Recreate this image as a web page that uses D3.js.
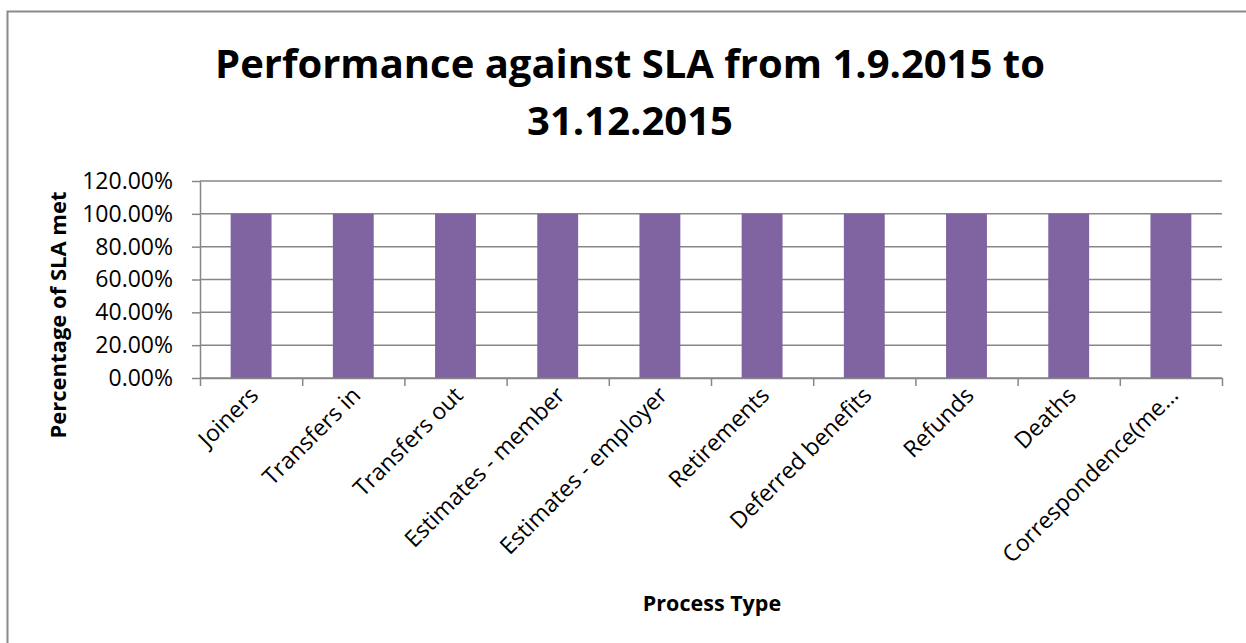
<!DOCTYPE html>
<html>
<head>
<meta charset="utf-8">
<script src="https://cdn.jsdelivr.net/npm/d3@7"></script>
<style>
  body { margin: 0; background: #fff; }
  svg { display: block; font-family: "Open Sans", sans-serif; }
</style>
</head>
<body>
<div id="wrapper"></div>
<script>
const categories = ["Joiners", "Transfers in", "Transfers out", "Estimates - member",
    "Estimates - employer", "Retirements", "Deferred benefits", "Refunds", "Deaths",
    "Correspondence(me\u2026"];
const slaMet = [1, 1, 1, 1, 1, 1, 1, 1, 1, 1];
const yTicks = [0, 0.2, 0.4, 0.6, 0.8, 1.0, 1.2];
const titleLines = ["Performance against SLA from 1.9.2015 to", "31.12.2015"];

const dimensions = {
    width: 1246,
    height: 643,
    margin: { top: 181, right: 24, bottom: 265, left: 200 },
};
dimensions.boundedWidth = dimensions.width - dimensions.margin.left - dimensions.margin.right;
dimensions.boundedHeight = dimensions.height - dimensions.margin.top - dimensions.margin.bottom;

const gridColor = "#878787";

const xScale = d3.scaleBand()
    .domain(categories)
    .range([0, dimensions.boundedWidth])
    .paddingInner(0.6)
    .paddingOuter(0.3);

const yScale = d3.scaleLinear()
    .domain([0, 1.2])
    .range([dimensions.boundedHeight, 0]);

const wrapper = d3.select("#wrapper")
    .append("svg")
    .attr("width", dimensions.width)
    .attr("height", dimensions.height);

// chart area border (runs off the right and bottom of the picture)
wrapper.append("rect")
    .attr("x", 7.5)
    .attr("y", 11.5)
    .attr("width", 1300)
    .attr("height", 700)
    .attr("fill", "none")
    .attr("stroke", "#8a8a8a")
    .attr("stroke-width", 2);

const title = wrapper.append("text")
    .attr("text-anchor", "middle")
    .attr("font-weight", "bold")
    .attr("font-size", 40)
    .attr("fill", "#000");
title.selectAll("tspan")
    .data(titleLines)
    .join("tspan")
    .attr("x", 630)
    .attr("y", (d, i) => 78 + i * 57)
    .text(d => d);

const bounds = wrapper.append("g")
    .attr("transform", `translate(${dimensions.margin.left}, ${dimensions.margin.top})`);

// gridlines
bounds.append("g")
    .selectAll("line")
    .data(yTicks)
    .join("line")
    .attr("x1", 0)
    .attr("x2", dimensions.boundedWidth)
    .attr("y1", d => yScale(d))
    .attr("y2", d => yScale(d))
    .attr("stroke", gridColor)
    .attr("stroke-width", 1.5);

// bars
bounds.append("g")
    .selectAll("rect")
    .data(slaMet)
    .join("rect")
    .attr("x", (d, i) => xScale(categories[i]))
    .attr("y", d => yScale(d))
    .attr("width", xScale.bandwidth())
    .attr("height", d => dimensions.boundedHeight - yScale(d))
    .attr("fill", "#8064a2");

// y axis
const yAxisGenerator = d3.axisLeft(yScale)
    .tickValues(yTicks)
    .tickFormat(d3.format(".2%"))
    .tickSize(8)
    .tickPadding(19)
    .tickSizeOuter(0);

const yAxis = bounds.append("g").call(yAxisGenerator);
yAxis.select(".domain").attr("stroke", gridColor).attr("stroke-width", 1.5);
yAxis.selectAll(".tick line").attr("stroke", gridColor).attr("stroke-width", 1.5);
yAxis.selectAll(".tick text")
    .attr("font-family", "Open Sans")
    .attr("font-size", 23)
    .attr("fill", "#000");

// x axis: ticks on band edges
const edges = categories.map(c => xScale(c) - xScale.step() * xScale.paddingOuter())
    .concat([dimensions.boundedWidth]);
const xEdgeScale = d3.scaleLinear().domain([0, dimensions.boundedWidth]).range([0, dimensions.boundedWidth]);
const xAxis = bounds.append("g")
    .attr("transform", `translate(0, ${dimensions.boundedHeight})`)
    .call(d3.axisBottom(xEdgeScale).tickValues(edges).tickSize(8).tickSizeOuter(0).tickFormat(""));
xAxis.select(".domain").attr("stroke", gridColor).attr("stroke-width", 1.5);
xAxis.selectAll(".tick line").attr("stroke", gridColor).attr("stroke-width", 1.5);

// category labels
bounds.append("g")
    .selectAll("text")
    .data(categories)
    .join("text")
    .attr("transform", d => `translate(${xScale(d) + xScale.bandwidth() / 2 + 3}, ${dimensions.boundedHeight + 13}) rotate(-45)`)
    .attr("text-anchor", "end")
    .attr("dy", "0.35em")
    .attr("font-size", 23)
    .attr("fill", "#000")
    .text(d => d);

// axis titles
wrapper.append("text")
    .attr("transform", `translate(66, ${dimensions.margin.top + 134}) rotate(-90)`)
    .attr("text-anchor", "middle")
    .attr("font-weight", "bold")
    .attr("font-size", 22)
    .attr("fill", "#000")
    .text("Percentage of SLA met");

wrapper.append("text")
    .attr("x", 712)
    .attr("y", 611)
    .attr("text-anchor", "middle")
    .attr("font-weight", "bold")
    .attr("font-size", 21.5)
    .attr("fill", "#000")
    .text("Process Type");
</script>
</body>
</html>
